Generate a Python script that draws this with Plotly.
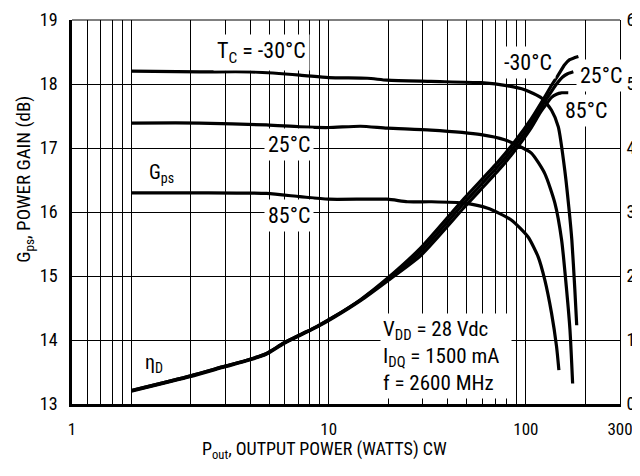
import math
import plotly.graph_objects as go

# ---------------- data ----------------
# Power gain Gps (dB) vs Pout (W)
g_m30_p = [1.0, 2.21, 3.98, 7.15, 10.0, 15.7, 19.8, 33, 59.3, 81.1, 98.6, 120, 134.9, 146, 157.8, 165, 171, 177, 181]
g_m30 = [18.20, 18.19, 18.19, 18.14, 18.10, 18.09, 18.06, 18.04, 18.02, 17.97, 17.91, 17.78, 17.59, 17.33, 16.63, 16.08, 15.56, 14.80, 14.23]

g_25_p = [1.0, 2.21, 4.84, 7.15, 10.0, 14.5, 19.8, 33, 59.3, 78, 89.4, 106.6, 124.7, 140.3, 151.8, 160.9, 167.3, 172.6]
g_25 = [17.39, 17.39, 17.36, 17.33, 17.32, 17.34, 17.31, 17.28, 17.21, 17.13, 17.05, 16.92, 16.60, 16.14, 15.56, 14.78, 14.16, 13.32]

g_85_p = [1.0, 2.21, 4.84, 7.15, 10.0, 19.8, 25.1, 33, 48.7, 64.1, 84.3, 102.6, 115.4, 124.7, 134.9, 143, 147]
g_85 = [16.30, 16.30, 16.29, 16.24, 16.20, 16.20, 16.16, 16.16, 16.14, 16.06, 15.875, 15.61, 15.30, 14.94, 14.42, 13.90, 13.53]

# Drain efficiency etaD (%) vs Pout (W)
e_m30_p = [1.0, 2.0, 2.9, 4.0, 4.85, 5.9, 7.15, 8.7, 10.6, 14.5, 19.8, 29.3, 48.6, 72.1, 87.3, 106.6, 124.7, 134.9, 146.5, 157.2, 166.7, 176, 184.6]
e_m30 = [2.1, 4.4, 5.8, 7.0, 7.9, 9.5, 10.8, 12.1, 13.6, 16.3, 19.6, 24.4, 32.1, 37.8, 40.9, 44.6, 48.0, 49.8, 51.5, 53.0, 53.8, 54.1, 54.3]

e_25_p = [1.0, 2.0, 2.9, 4.0, 4.85, 5.9, 7.15, 8.7, 10.6, 14.5, 19.8, 29.3, 48.6, 72.1, 87.3, 106.6, 124.7, 131.8, 143, 153.6, 162.8, 174]
e_25 = [2.1, 4.4, 5.8, 7.0, 7.9, 9.5, 10.8, 12.1, 13.6, 16.25, 19.4, 23.8, 31.4, 37.1, 40.2, 43.9, 47.3, 48.4, 50.0, 51.1, 51.6, 51.9]

e_85_p = [1.0, 2.0, 2.9, 4.0, 4.85, 5.9, 7.15, 8.7, 10.6, 14.5, 19.8, 29.3, 48.6, 72.1, 87.3, 106.6, 118, 127.3, 134.9, 143, 151.8, 164]
e_85 = [2.0, 4.3, 5.7, 6.9, 7.8, 9.4, 10.7, 12.0, 13.5, 16.15, 19.2, 23.2, 30.7, 36.4, 39.5, 43.2, 45.5, 46.9, 47.9, 48.4, 48.6, 48.6]

# axis ticks
x_grid = [0.5, 0.6, 0.7, 0.8, 0.9, 1, 2, 3, 4, 5, 6, 7, 8, 9, 10,
          20, 30, 40, 50, 60, 70, 80, 90, 100, 200, 300]
x_labels = {0.5: "1", 10: "10", 100: "100", 300: "300"}
y_left_ticks = [13, 14, 15, 16, 17, 18, 19]
y_right_ticks = [0, 10, 20, 30, 40, 50, 60]

FONT = "Liberation Sans Narrow, Arial Narrow, Roboto Condensed, Liberation Sans, Arial, sans-serif"
LW = 3.2

fig = go.Figure()
for p, g in [(g_m30_p, g_m30), (g_25_p, g_25), (g_85_p, g_85)]:
    fig.add_trace(go.Scatter(x=p, y=g, mode="lines", yaxis="y",
                             line=dict(color="black", width=LW, shape="spline", smoothing=0.6),
                             showlegend=False, hoverinfo="skip"))
for p, e in [(e_m30_p, e_m30), (e_25_p, e_25), (e_85_p, e_85)]:
    fig.add_trace(go.Scatter(x=p, y=e, mode="lines", yaxis="y2",
                             line=dict(color="black", width=LW, shape="spline", smoothing=0.6),
                             showlegend=False, hoverinfo="skip"))

ticktext = [x_labels.get(v, "") for v in x_grid]

# the page body adds an 8px offset, margins compensate for it
fig.update_layout(
    width=640, height=476,
    margin=dict(l=64, r=28, t=12, b=80, autoexpand=False),
    paper_bgcolor="white", plot_bgcolor="white",
    font=dict(family=FONT, size=17, color="black"),
    xaxis=dict(type="log", range=[math.log10(0.5), math.log10(300)],
               tickmode="array", tickvals=x_grid, ticktext=ticktext,
               showgrid=True, gridcolor="black", gridwidth=1,
               showline=True, linecolor="black", linewidth=2.5,
               ticks="outside", ticklen=8, tickcolor="rgba(0,0,0,0)",
               tickfont=dict(size=17), automargin=False, zeroline=False),
    yaxis=dict(range=[13, 19], tickmode="array", tickvals=y_left_ticks,
               showgrid=True, gridcolor="black", gridwidth=1,
               showline=True, linecolor="black", linewidth=2.5,
               ticks="outside", ticklen=8, tickcolor="rgba(0,0,0,0)",
               tickfont=dict(size=18), automargin=False, zeroline=False),
    yaxis2=dict(range=[0, 60], overlaying="y", side="right",
                tickmode="array", tickvals=y_right_ticks,
                showgrid=False, showline=True, linecolor="black", linewidth=1,
                ticks="outside", ticklen=2, tickcolor="rgba(0,0,0,0)",
                tickfont=dict(size=18), automargin=False, zeroline=False),
)

# top frame line
fig.add_shape(type="line", xref="paper", yref="paper", x0=0, x1=1, y0=1, y1=1,
              line=dict(color="black", width=1))

# axis titles
fig.add_annotation(xref="paper", yref="paper", x=0.46, y=-0.12,
                   xanchor="center", yanchor="middle",
                   text="P<sub>out</sub>, OUTPUT POWER (WATTS) CW", showarrow=False,
                   font=dict(size=18, color="black", family=FONT))
fig.add_annotation(xref="paper", yref="paper", x=-0.086, y=0.586, textangle=-90,
                   xanchor="center", yanchor="middle",
                   text="G<sub>ps</sub>, POWER GAIN (dB)", showarrow=False,
                   font=dict(size=19, color="black", family=FONT))

def lab(text, xv, yv, size=22, **kw):
    fig.add_annotation(x=math.log10(xv), y=yv, xref="x", yref="y", text=text,
                       showarrow=False, bgcolor="white", borderpad=3,
                       font=dict(size=size, color="black", family=FONT), **kw)

lab("T<sub>C</sub> = -30°C", 4.58, 18.5)
lab("25°C", 6.29, 17.06)
lab("85°C", 6.29, 15.95)
lab("G<sub>ps</sub>", 1.415, 16.61, size=20)
lab("η<sub>D</sub>", 1.30, 13.64, size=20)
lab("-30°C", 103, 18.34)
lab("25°C", 240, 18.14)
lab("85°C", 201, 17.59)
fig.add_annotation(x=math.log10(39.3), y=13.75, xref="x", yref="y",
                   text="V<sub>DD</sub> = 28 Vdc<br>I<sub>DQ</sub> = 1500 mA<br>f = 2600 MHz",
                   showarrow=False, bgcolor="white", align="left",
                   width=126, height=80, borderpad=2,
                   font=dict(size=21, color="black", family=FONT))

fig.write_html("out.html")
